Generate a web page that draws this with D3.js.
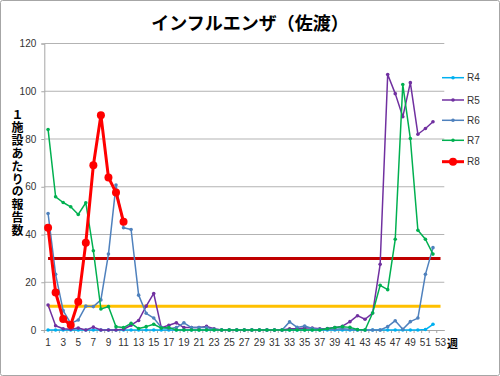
<!DOCTYPE html>
<html>
<head>
<meta charset="utf-8">
<script src="https://cdn.jsdelivr.net/npm/d3@7"></script>
<style>
  body { margin: 0; background: #fff; }
  svg text { font-family: "Noto Sans CJK JP", "Noto Sans", sans-serif; }
</style>
</head>
<body>
<svg id="chart" width="500" height="376"></svg>
<script>
let weeks = d3.range(1, 54)
let tickWeeks = weeks.filter(w => w % 2 === 1)
let yTicks = [0, 20, 40, 60, 80, 100, 120]
let yLabel = '１施設あたりの報告数'

let seriesNames = ['R4', 'R5', 'R6', 'R7', 'R8']
let r4 = [0, 0, 0, 0, 0, 0, 0, 0, 0, 0, 0, 0, 0, 0, 0, 0, 0, 0, 0, 0, 0, 0, 0, 0, 0, 0,
          0, 0, 0, 0, 0, 0, 0, 0, 0, 0, 0, 0, 0, 0, 0, 0, 0, 0, 0, 0, 0, 0, 0, 0, 0.2, 2.4]
let r5 = [10.5, 1.8, 0.5, 0.3, 0.8, 0, 1.2, 0, 0, 0, 0.3, 2, 4, 10, 15.3, 1, 2, 3, 1, 1, 1, 1.5, 0.5, 0, 0, 0,
          0, 0, 0, 0, 0, 0, 0.5, 0.5, 0.8, 0.8, 0.5, 0.6, 1, 1.6, 3.5, 6, 4.5, 7.1, 27.5, 107, 99, 89.3, 103.6, 82, 84.4, 87.2]
let r6 = [48.8, 23.3, 8.1, 2.8, 4.2, 10, 9.8, 12.6, 31.8, 60.7, 42.8, 42.1, 14.6, 7, 5, 1.1, 0.5, 1, 3, 1, 1, 1, 0.3, 0, 0, 0,
          0, 0, 0, 0, 0, 0, 3.4, 1.1, 1.7, 0.6, 0.3, 0.3, 0.3, 0.5, 0.3, 0, 0, 0, 0, 1.4, 3.9, 0.3, 3.5, 5, 23.3, 34.5]
let r7 = [84, 55.8, 53.4, 51.6, 48.4, 53.3, 33.2, 8.8, 9.8, 1.4, 1, 2.8, 0.6, 1.4, 2.4, 0.8, 1, 0, 0, 0, 0, 0, 0, 0, 0, 0,
          0, 0, 0, 0, 0, 0, 0, 0, 0, 0, 0, 0.5, 1, 1.4, 1.1, 0.2, 0, 7.1, 18.7, 16.9, 38, 102.8, 80.2, 41.8, 38, 31.8]
let r8 = [42.8, 15.7, 4.6, 2.1, 11.8, 36.5, 69, 90, 63.9, 57.6, 45.3]

let thresholdValues = [30, 10]
let thresholdColors = ['#c00000', '#ffc000']
let seriesColors = ['#00b0f0', '#7030a0', '#4f81bd', '#00b050', '#ff0000']

let svg = d3.select('#chart')

// outer frame
svg.append('rect')
    .attr('x', 0.5).attr('y', 0.5)
    .attr('width', 499).attr('height', 375)
    .attr('rx', 2)
    .attr('fill', '#fff').attr('stroke', '#a6a6a6')

let plot = {left: 44.3, right: 444.3, top: 43.5, bottom: 330}

let x = d3.scaleBand()
    .domain(weeks)
    .range([plot.left, plot.right])
let y = d3.scaleLinear()
    .domain([0, 120])
    .range([plot.bottom, plot.top])
let cx = w => x(w) + x.bandwidth() / 2

// gridlines
svg.append('g')
    .selectAll('line')
    .data(yTicks.filter(t => t > 0))
    .enter().append('line')
    .attr('x1', plot.left).attr('x2', plot.right)
    .attr('y1', d => y(d)).attr('y2', d => y(d))
    .attr('stroke', '#b3b3b3').attr('stroke-width', 1)

// y axis
let yAxis = svg.append('g')
    .attr('transform', 'translate(' + plot.left + ',0)')
    .call(d3.axisLeft(y).tickValues(yTicks).tickSize(3).tickPadding(5))
yAxis.select('.domain').attr('stroke', '#a6a6a6')
yAxis.selectAll('.tick line').attr('stroke', '#a6a6a6')
yAxis.selectAll('.tick text')
    .attr('font-size', 10).attr('fill', '#333')
    .style('font-family', '"Liberation Sans", Arial, sans-serif')

// x axis
let xAxis = svg.append('g')
    .attr('transform', 'translate(0,' + plot.bottom + ')')
    .call(d3.axisBottom(x).tickValues(tickWeeks).tickSize(0).tickPadding(9))
xAxis.select('.domain').attr('stroke', '#a6a6a6')
xAxis.selectAll('.tick text')
    .attr('font-size', 10).attr('fill', '#333')
    .style('font-family', '"Liberation Sans", Arial, sans-serif')
// tick marks between categories
svg.append('g')
    .selectAll('line')
    .data(weeks)
    .enter().append('line')
    .attr('x1', d => x(d)).attr('x2', d => x(d))
    .attr('y1', plot.bottom).attr('y2', plot.bottom + 3)
    .attr('stroke', '#a6a6a6')

// threshold lines
thresholdValues.forEach((v, i) => {
    svg.append('line')
        .attr('x1', cx(1)).attr('x2', cx(53))
        .attr('y1', y(v)).attr('y2', y(v))
        .attr('stroke', thresholdColors[i]).attr('stroke-width', 3)
})

let allSeries = [r4, r5, r6, r7, r8]
let line = d3.line()
    .x((d, i) => cx(i + 1))
    .y(d => y(d))

allSeries.forEach((data, i) => {
    let isR8 = i === 4
    let g = svg.append('g')
    g.append('path')
        .datum(data)
        .attr('d', line)
        .attr('fill', 'none')
        .attr('stroke', seriesColors[i])
        .attr('stroke-width', isR8 ? 3 : 1.5)
        .attr('stroke-linejoin', 'round')
    g.selectAll('circle')
        .data(data)
        .enter().append('circle')
        .attr('cx', (d, j) => cx(j + 1))
        .attr('cy', d => y(d))
        .attr('r', isR8 ? 4 : 1.8)
        .attr('fill', seriesColors[i])
})

// legend
let legendY = [77.7, 100, 120.3, 140.3, 161.7]
let legend = svg.append('g')
seriesNames.forEach((name, i) => {
    let isR8 = i === 4
    legend.append('line')
        .attr('x1', 442).attr('x2', 464)
        .attr('y1', legendY[i]).attr('y2', legendY[i])
        .attr('stroke', seriesColors[i])
        .attr('stroke-width', isR8 ? 3 : 1.5)
    legend.append('circle')
        .attr('cx', 453).attr('cy', legendY[i])
        .attr('r', isR8 ? 4 : 1.8)
        .attr('fill', seriesColors[i])
    legend.append('text')
        .attr('x', 467).attr('y', legendY[i])
        .attr('dy', '0.35em')
        .attr('font-size', 10)
        .attr('fill', '#333')
        .style('font-family', '"Liberation Sans", Arial, sans-serif')
        .text(name)
})

// title
svg.append('text')
    .attr('x', 250).attr('y', 29.5)
    .attr('text-anchor', 'middle')
    .attr('font-size', 18).attr('font-weight', 'bold')
    .text('インフルエンザ（佐渡）')

// vertical y label, one text element
svg.append('text')
    .attr('x', 17.5)
    .attr('y', 109)
    .style('writing-mode', 'vertical-rl')
    .style('text-orientation', 'upright')
    .attr('letter-spacing', 0.8)
    .attr('font-size', 12).attr('font-weight', 'bold')
    .text(yLabel)

// x axis unit
svg.append('text')
    .attr('x', 447).attr('y', 344)
    .attr('dy', '0.35em')
    .attr('font-size', 11).attr('font-weight', 'bold')
    .text('週')
</script>
</body>
</html>
